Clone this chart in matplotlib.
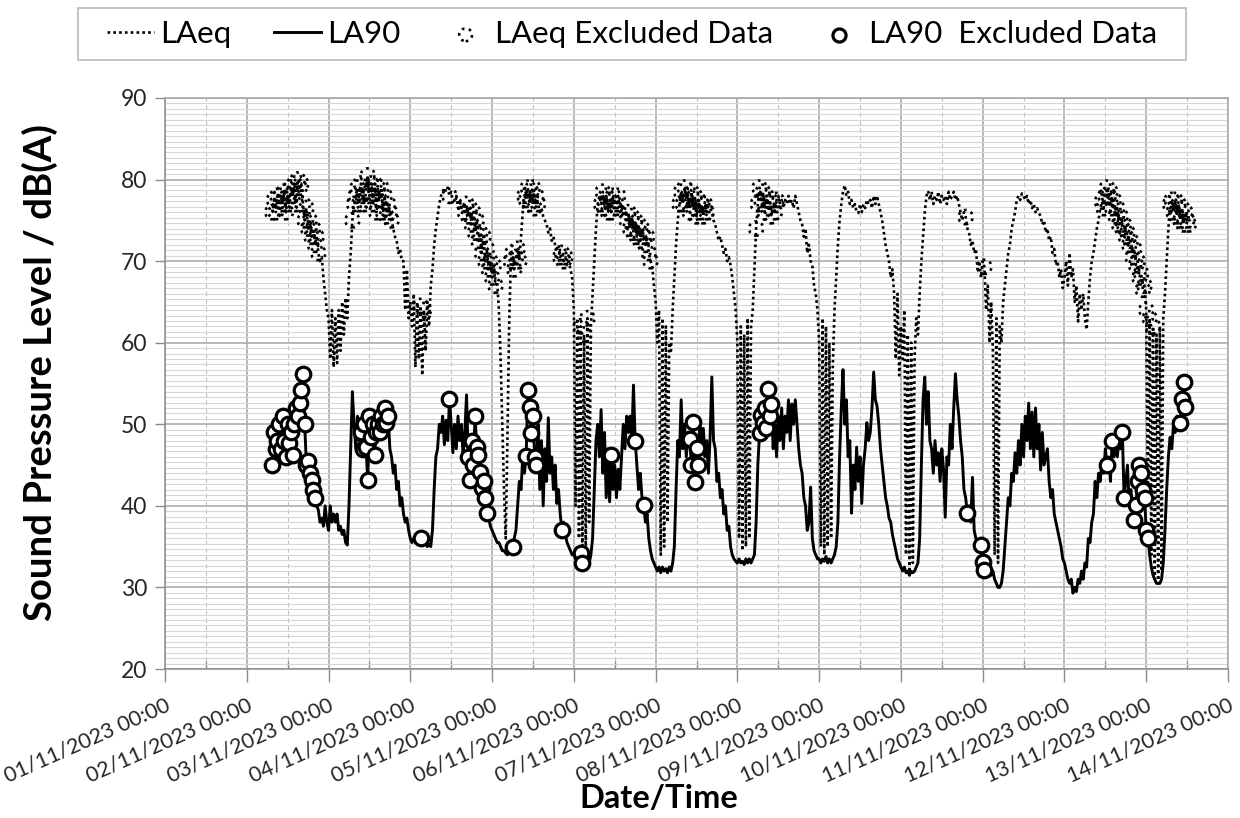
import numpy as np
import pandas as pd
import matplotlib
matplotlib.use("Agg")
import matplotlib.pyplot as plt
import matplotlib.dates as mdates
from matplotlib.ticker import MultipleLocator, FixedLocator
from matplotlib.patches import Rectangle

plt.rcParams['font.family'] = ['Lato', 'DejaVu Sans']

# ---------------- data (30-minute values) ----------------
laeq_0211 = [76, 77.5, 76, 78, 76.5, 78, 77, 78.5, 76, 78, 77, 79, 78, 79.5, 77, 80, 79, 79.5, 77, 75, 76.5,
             74, 75, 73, 74, 72, 73, 71, 70, 70.5, 68, 66, 64]
laeq_0311 = [63, 58, 64, 57, 63, 57.5, 64, 59, 65, 61, 65.5, 63,
             68, 71, 75, 77, 78, 79, 77, 79.5, 78, 77, 78.5, 80.5,
             78, 79.5, 77, 79.5, 76, 79, 77.5, 79, 76, 78, 75.5, 77,
             76, 75, 74, 73, 72.5, 71, 71.5, 70, 70, 64, 69, 63]
laeq_0411 = [65, 62, 66, 57, 65, 58, 64.5, 56, 64, 59, 65, 62,
             67, 69, 72, 74, 75.5, 77, 78, 78.5, 79, 78.5, 79, 78,
             78.5, 77, 77.5, 78, 76.5, 77.5, 76.5, 77, 76, 77, 75.5, 76.5,
             74.5, 76, 73.5, 75, 72.5, 73.5, 71, 73, 70, 71.5, 69, 70]
laeq_0511 = [68, 69.5, 67, 67.5, 64, 58, 50, 42, 36, 48, 62, 70,
             71, 69, 70.5, 71.5, 70, 73, 76, 78, 77.5, 79, 77, 78.5,
             79, 76.5, 78, 77, 76, 76.5, 75.5, 75, 74.5, 73.5, 74, 72.5,
             73, 72, 71.5, 72, 70.5, 71, 70, 70.5, 69.5, 70, 69, 68]
laeq_0611 = [64, 40, 63, 36, 62, 34, 61, 34, 63, 38, 62, 66,
             70, 74, 77, 78, 77, 78.5, 76.5, 78, 76, 77.5, 76, 78,
             76.5, 77, 78, 76, 77, 75.5, 76.5, 75, 76, 74, 75.5, 73.5,
             75, 73, 74.5, 72.5, 74, 73, 72, 73, 71, 70, 69.5, 67]
laeq_0711 = [65, 60, 64, 34, 63, 35, 62, 38, 60, 59, 64, 68,
             72, 75, 77, 78.5, 77, 79, 77.5, 78, 76, 78.5, 76.5, 78,
             75.5, 77.5, 76, 77, 75.5, 77, 76, 77.5, 76.5, 76, 75, 74.5,
             73.5, 72.5, 73, 72, 71, 71.5, 70, 70.5, 69.5, 68, 66, 64]
laeq_0811 = [60, 36, 62, 34.5, 61, 35, 63, 36, 62, 64, 69, 74,
             77, 79, 77.5, 78.5, 76, 78, 76.5, 77.5, 75.5, 77, 76, 77.5,
             78, 77, 77.5, 76.5, 77.5, 77, 78, 77, 77.5, 76.5, 78, 77,
             76, 75, 74.5, 73, 74, 71, 72, 70, 69.5, 67, 66, 64]
laeq_0911 = [60, 35, 63, 34, 62, 35, 60, 36, 57, 64, 68, 72,
             75, 77, 78.5, 79.3, 78, 78.5, 77, 77.5, 76.5, 77, 76, 75.9,
             77, 76, 77, 76.5, 77.5, 77, 77.5, 76.5, 78, 77, 78, 77,
             76, 75, 73.5, 72, 71, 70, 68, 69, 66, 58, 66, 56]
laeq_1011 = [62, 58, 64, 34, 61, 31.5, 60, 33, 58, 63, 61, 66,
             70, 73, 76, 78, 78.6, 77.5, 78.5, 77, 78, 77.5, 78.5, 77,
             78, 77.5, 78, 77, 78.5, 77.5, 78, 78.5, 77.5, 78, 77, 76,
             75, 76, 75.4, 74, 73.5, 72, 72.5, 71, 71.5, 69, 70, 68]
laeq_1111 = [70, 69.3, 64, 67, 60, 65, 59, 34, 63, 33, 62, 60,
             65, 67, 69, 71, 72, 74, 75, 76, 77.5, 78, 77.5, 78.3,
             78, 77.5, 78, 77, 77.5, 76.5, 77, 76, 76.5, 75.9, 75.5, 74.5,
             75, 73.5, 74, 72.5, 73, 71, 71.5, 69.5, 70, 68, 69, 66.7]
laeq_1211 = [68, 70, 67, 71, 68, 69, 65, 67, 62.6, 66, 64, 66,
             63, 61.6, 65, 68, 70, 71, 72.5, 74, 75, 76.5, 77.3, 76.5,
             78, 79, 78, 78.5, 76.5, 77.5, 75.5, 76.5, 74.5, 75.5, 74, 74.5,
             73, 73.5, 72, 72.5, 70.5, 71.5, 69.5, 70, 68, 68.5, 66.5, 67]
laeq_1311 = [64, 40, 63, 34, 62, 31, 61, 30.5, 62, 32, 63, 66,
             70, 74, 77, 77.5, 76, 77.5, 75.5, 77, 75, 76.5, 74.5, 76, 75, 74.5]

la90_0211 = [45, 49, 47, 48, 50, 47, 51, 48, 46, 50, 47.7, 49, 46.2, 50, 52, 51, 52.6, 54.2, 56.2, 50, 45,
             45.5, 44, 43.2, 42, 41, 40, 39.5, 38, 38.5, 37.5, 40, 38]
la90_0311 = [37, 40, 38, 39, 38, 39, 37, 37.5, 36.5, 37, 35.5, 35.2,
             40, 47, 54, 50, 47, 51, 48, 49, 47, 50, 47.2, 43.2,
             51, 48.5, 50, 46.2, 49, 50, 49, 51, 50, 52, 50.2, 51,
             47, 46, 44, 45, 42, 43, 40, 41, 39, 38, 38.5, 37]
la90_0411 = [36, 35.5, 36, 35.8, 36.5, 35.5, 36, 35.8, 35.2, 35.5, 35, 35.3,
             35, 37, 42, 46, 47, 50, 49, 51, 47.5, 50.5, 48, 53.1,
             50, 46.5, 50, 47, 51, 48, 50, 46, 49, 53.6, 46, 43.2,
             48, 45, 51, 47.2, 46.2, 44.1, 42.2, 43, 41, 39.1, 38.5, 37.5]
la90_0511 = [37, 36.5, 36, 35.5, 35.5, 35, 34.5, 34.5, 34.2, 34, 34.5, 35,
             35, 36, 37, 40, 43, 42, 46, 44, 46.1, 54.2, 52.1, 48.9,
             51, 46, 45, 50, 42, 48, 40, 47, 43, 50.8, 44, 46,
             42, 45, 40.3, 42, 39, 37, 38, 36.5, 35.5, 35, 34.5, 34]
la90_0611 = [34, 33.5, 33.5, 33, 34.2, 33, 33.5, 34, 33.5, 33, 34, 36,
             42, 48, 50, 46, 51.8, 44, 49, 41, 47, 40.5, 46.2, 42,
             45, 41, 44.5, 42, 46, 50, 47, 51, 49, 51, 48, 54.8,
             48, 45, 42, 44, 41, 40.1, 38, 39, 36, 34.5, 33.5, 33]
la90_0711 = [32.5, 32, 32.5, 31.8, 32.5, 32, 32.3, 31.8, 32.5, 32, 33, 35,
             42, 48, 46, 53, 47, 50, 46, 49, 48.2, 45, 50.3, 42.9,
             47.1, 45, 50, 47, 49.5, 46, 48, 44, 48.5, 55.8, 48, 47,
             43, 44, 41, 42, 39, 40, 37, 37.5, 35, 34, 33.5, 33.2]
la90_0811 = [33, 33.5, 33, 33.2, 32.8, 33.5, 33, 33.5, 33, 33.5, 34, 38,
             45, 48.9, 51.1, 50.2, 52, 49.5, 54.3, 51, 52.5, 47, 50, 46,
             51, 48, 52, 47, 51, 49, 53, 48, 52.5, 50, 53, 50,
             47, 45, 44, 41, 40, 37, 38, 42.3, 36, 34.5, 34, 33.5]
la90_0911 = [33.5, 33, 33.5, 33.2, 33.8, 33, 33.5, 33, 33.5, 34, 35, 38,
             46, 52, 56.7, 50, 53, 46, 48, 39.1, 45, 42, 47.2, 43,
             46, 40.3, 45, 47, 50.2, 48, 49, 52, 56.4, 53, 52.2, 50,
             47, 45, 43, 41, 40, 38.5, 38, 36.5, 35.5, 34.5, 33.5, 33]
la90_1011 = [32.5, 32, 32.5, 31.8, 32, 31.5, 32, 31.8, 32, 32.5, 33, 36,
             45, 53, 55.8, 50, 54, 48, 47, 44, 48, 45, 46.5, 43,
             47, 44.5, 38.6, 46, 45, 50, 47, 52, 56.2, 53, 51, 48,
             46, 42, 41, 39.1, 40, 38, 43.5, 37, 36, 35.5, 34.5, 35.2]
la90_1111 = [33.1, 32.1, 33, 32, 32.5, 31.5, 32, 31, 30.5, 30, 30, 30.5,
             32, 35, 38, 41, 40, 44, 43, 46.5, 44, 48, 45, 50,
             46, 51, 48, 52.6, 47, 51.5, 46, 52, 47, 50, 44.4, 49,
             45, 46, 47, 43, 41, 42, 39, 38, 37, 36, 35, 33.5]
la90_1211 = [33, 32, 31, 30.5, 31, 29.3, 30, 29.5, 31, 30.5, 32, 31,
             33, 32.5, 36, 35.5, 38, 39, 43, 41, 44, 43, 45.5, 44,
             47, 45, 46, 43, 48, 46, 47.5, 46, 48, 47, 49, 41,
             43, 45, 40, 42, 39, 38.3, 40.1, 43, 45, 44, 42, 41]
la90_1311 = [37, 36, 34, 32.5, 31.5, 31, 30.5, 30.5, 30.5, 31, 33, 37,
             42, 46, 48.4, 47, 50, 49, 51, 50, 50.2, 53.1, 55.2, 52.1]

day_starts = ["2023-11-02 07:30", "2023-11-03", "2023-11-04", "2023-11-05", "2023-11-06",
              "2023-11-07", "2023-11-08", "2023-11-09", "2023-11-10", "2023-11-11",
              "2023-11-12", "2023-11-13"]

laeq_days = [laeq_0211, laeq_0311, laeq_0411, laeq_0511, laeq_0611, laeq_0711,
             laeq_0811, laeq_0911, laeq_1011, laeq_1111, laeq_1211, laeq_1311]
la90_days = [la90_0211, la90_0311, la90_0411, la90_0511, la90_0611, la90_0711,
             la90_0811, la90_0911, la90_1011, la90_1111, la90_1211, la90_1311]

laeq_excluded = [
    ("2023-11-02 07:30", "2023-11-02 21:00"), ("2023-11-03 07:00", "2023-11-03 18:30"),
    ("2023-11-04 03:00", "2023-11-04 03:00"), ("2023-11-04 04:00", "2023-11-04 04:00"),
    ("2023-11-04 11:30", "2023-11-04 11:30"), ("2023-11-04 16:00", "2023-11-05 01:00"),
    ("2023-11-05 05:30", "2023-11-05 08:00"), ("2023-11-05 09:30", "2023-11-05 13:30"),
    ("2023-11-05 20:00", "2023-11-05 21:30"), ("2023-11-06 02:00", "2023-11-06 02:00"),
    ("2023-11-06 03:00", "2023-11-06 03:00"), ("2023-11-06 04:00", "2023-11-06 04:00"),
    ("2023-11-06 08:00", "2023-11-06 13:00"), ("2023-11-06 15:30", "2023-11-06 22:30"),
    ("2023-11-07 07:00", "2023-11-07 15:00"), ("2023-11-08 05:30", "2023-11-08 11:30"),
    ("2023-11-10 19:00", "2023-11-10 19:00"), ("2023-11-11 00:30", "2023-11-11 00:30"),
    ("2023-11-12 11:00", "2023-11-13 00:00"), ("2023-11-13 01:00", "2023-11-13 01:00"),
    ("2023-11-13 02:00", "2023-11-13 02:00"), ("2023-11-13 07:00", "2023-11-13 12:30"),
]
la90_excluded = [
    ("2023-11-02 07:30", "2023-11-02 20:00"), ("2023-11-03 09:30", "2023-11-03 17:30"),
    ("2023-11-04 03:00", "2023-11-04 03:00"), ("2023-11-04 11:30", "2023-11-04 11:30"),
    ("2023-11-04 17:00", "2023-11-04 22:30"), ("2023-11-05 06:00", "2023-11-05 06:00"),
    ("2023-11-05 10:00", "2023-11-05 13:00"), ("2023-11-05 20:30", "2023-11-05 20:30"),
    ("2023-11-06 02:00", "2023-11-06 02:30"), ("2023-11-06 11:00", "2023-11-06 11:00"),
    ("2023-11-06 18:00", "2023-11-06 18:00"), ("2023-11-06 20:30", "2023-11-06 20:30"),
    ("2023-11-07 10:00", "2023-11-07 12:30"), ("2023-11-08 06:30", "2023-11-08 10:00"),
    ("2023-11-10 19:30", "2023-11-10 19:30"), ("2023-11-10 23:30", "2023-11-11 00:30"),
    ("2023-11-12 12:30", "2023-11-12 12:30"), ("2023-11-12 14:00", "2023-11-12 14:00"),
    ("2023-11-12 17:00", "2023-11-12 17:30"), ("2023-11-12 20:30", "2023-11-13 00:30"),
    ("2023-11-13 10:00", "2023-11-13 11:30"),
]

legend_labels = ["LAeq", "LA90", "LAeq Excluded Data", "LA90  Excluded Data"]
x_label = "Date/Time"
y_label = "Sound Pressure Level / dB(A)"


def build(days):
    t = []
    v = []
    for start, vals in zip(day_starts, days):
        t.append(pd.date_range(start, periods=len(vals), freq="30min"))
        v.extend(vals)
    return t[0].append(t[1:]), np.array(v, dtype=float)


def mask_of(times, intervals):
    m = np.zeros(len(times), dtype=bool)
    for a, b in intervals:
        m |= (times >= pd.Timestamp(a)) & (times <= pd.Timestamp(b))
    return m


t_eq, v_eq = build(laeq_days)
t_90, v_90 = build(la90_days)
m_eq = mask_of(t_eq, laeq_excluded)
m_90 = mask_of(t_90, la90_excluded)

# ---------------- figure ----------------
W, H = 1240, 818
fig = plt.figure(figsize=(W / 100, H / 100), dpi=100)
ax = fig.add_axes([165 / W, 149 / H, (1228 - 165) / W, (669 - 98) / H])

l_eq, = ax.plot(t_eq, v_eq, color="black", lw=1.9, linestyle=(0, (1, 1.2)), zorder=3)
l_90, = ax.plot(t_90, v_90, color="black", lw=2.1, zorder=4)
s_eq = ax.scatter(t_eq[m_eq], v_eq[m_eq], s=105, facecolors="none", edgecolors="black",
                  linewidths=1.9, linestyles=(0, (1, 1.7)), zorder=5)
s_90 = ax.scatter(t_90[m_90], v_90[m_90], s=110, facecolors="white", edgecolors="black",
                  linewidths=2.3, zorder=6)

ax.set_xlim(pd.Timestamp("2023-11-01"), pd.Timestamp("2023-11-14"))
ax.set_ylim(20, 90)

ax.xaxis.set_major_locator(mdates.DayLocator())
ax.xaxis.set_minor_locator(mdates.HourLocator(byhour=[12]))
ax.xaxis.set_major_formatter(mdates.DateFormatter("%d/%m/%Y %H:%M"))
ax.yaxis.set_major_locator(MultipleLocator(10))
ax.yaxis.set_minor_locator(FixedLocator(np.linspace(20, 90, 106)))

ax.grid(which="major", axis="both", color="#a6a6a6", lw=1.1, zorder=0)
ax.grid(which="minor", axis="y", color="#d6d6d6", lw=0.8, zorder=0)
ax.grid(which="minor", axis="x", color="#c0c0c0", lw=0.8, linestyle=(0, (4, 3)), zorder=0)
ax.set_axisbelow(True)

for sp in ax.spines.values():
    sp.set_color("#a6a6a6")
    sp.set_linewidth(1.1)
ax.spines["left"].set_color("#8c8c8c")
ax.spines["bottom"].set_color("#8c8c8c")

ax.tick_params(axis="x", which="major", direction="out", length=9, width=1, color="#8c8c8c",
               labelsize=15.5, labelcolor="#262626", pad=10)
ax.tick_params(axis="x", which="minor", direction="in", length=6, width=1, color="#8c8c8c")
ax.tick_params(axis="y", which="major", direction="out", length=7, width=1, color="#8c8c8c",
               labelsize=16.5, labelcolor="#262626", pad=6)
ax.tick_params(axis="y", which="minor", length=0)

for lab in ax.get_xticklabels():
    lab.set_rotation(24)
    lab.set_ha("right")
    lab.set_va("top")
    lab.set_rotation_mode("anchor")

fig.text(40 / W, 1 - 373 / H, y_label, rotation=90, ha="center", va="center",
         fontsize=27.5, fontweight="bold", color="black")
fig.text(659 / W, 1 - 799 / H, x_label, ha="center", va="center",
         fontsize=23.5, fontweight="bold", color="black")

# legend box (frame drawn as a figure rectangle to match the wide padding)
fig.patches.append(Rectangle((78 / W, 1 - 60 / H), (1186 - 78) / W, 52 / H,
                             transform=fig.transFigure, facecolor="white",
                             edgecolor="#bfbfbf", lw=1.3, zorder=0))
leg = fig.legend([l_eq, l_90, s_eq, s_90], legend_labels, loc="center",
                 bbox_to_anchor=(632 / W, 1 - 34 / H), ncol=4, frameon=False,
                 fontsize=22.5, handlelength=1.5, handletextpad=0.2,
                 columnspacing=1.35, borderpad=0.2, markerscale=0.9)

fig.savefig("out.png", dpi=100)
